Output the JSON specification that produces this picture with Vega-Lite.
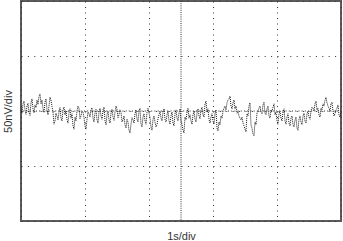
{
  "$schema": "https://vega.github.io/schema/vega-lite/v6.json",
  "width": 320,
  "height": 220,
  "autosize": {"type": "none"},
  "padding": {"left": 21, "top": 1, "right": 2, "bottom": 20},
  "background": "white",
  "config": {
    "view": {"stroke": "#5a5a5a", "strokeWidth": 2},
    "font": "Liberation Sans"
  },
  "datasets": {
    "trace": [
      {"t":0,"v":5},{"t":0.0625,"v":13},{"t":0.125,"v":2},{"t":0.1875,"v":9},{"t":0.25,"v":-2},{"t":0.3125,"v":15},{"t":0.375,"v":4},{"t":0.4375,"v":11},{"t":0.5,"v":20},{"t":0.5625,"v":27},{"t":0.625,"v":13},{"t":0.6875,"v":5},{"t":0.75,"v":16},{"t":0.8125,"v":2},{"t":0.875,"v":9},{"t":0.9375,"v":20},
      {"t":1,"v":-2},{"t":1.0625,"v":-18},{"t":1.125,"v":-9},{"t":1.1875,"v":-2},{"t":1.25,"v":-13},{"t":1.3125,"v":2},{"t":1.375,"v":-7},{"t":1.4375,"v":-16},{"t":1.5,"v":-4},{"t":1.5625,"v":-13},{"t":1.625,"v":-27},{"t":1.6875,"v":-11},{"t":1.75,"v":0},{"t":1.8125,"v":5},{"t":1.875,"v":-9},{"t":1.9375,"v":-2},
      {"t":2,"v":-27},{"t":2.0625,"v":-15},{"t":2.125,"v":-5},{"t":2.1875,"v":2},{"t":2.25,"v":-13},{"t":2.3125,"v":-4},{"t":2.375,"v":-16},{"t":2.4375,"v":-2},{"t":2.5,"v":-9},{"t":2.5625,"v":2},{"t":2.625,"v":-18},{"t":2.6875,"v":-7},{"t":2.75,"v":-16},{"t":2.8125,"v":-4},{"t":2.875,"v":-11},{"t":2.9375,"v":-2},
      {"t":3,"v":4},{"t":3.0625,"v":-7},{"t":3.125,"v":-2},{"t":3.1875,"v":-16},{"t":3.25,"v":-25},{"t":3.3125,"v":-15},{"t":3.375,"v":-35},{"t":3.4375,"v":-24},{"t":3.5,"v":-16},{"t":3.5625,"v":-5},{"t":3.625,"v":-15},{"t":3.6875,"v":0},{"t":3.75,"v":-24},{"t":3.8125,"v":-11},{"t":3.875,"v":-18},{"t":3.9375,"v":-2},
      {"t":4,"v":-4},{"t":4.0625,"v":-29},{"t":4.125,"v":-15},{"t":4.1875,"v":-20},{"t":4.25,"v":-25},{"t":4.3125,"v":-7},{"t":4.375,"v":-13},{"t":4.4375,"v":-2},{"t":4.5,"v":-15},{"t":4.5625,"v":-7},{"t":4.625,"v":-18},{"t":4.6875,"v":-9},{"t":4.75,"v":-22},{"t":4.8125,"v":-5},{"t":4.875,"v":-13},{"t":4.9375,"v":-4},
      {"t":5,"v":-18},{"t":5.0625,"v":-35},{"t":5.125,"v":-11},{"t":5.1875,"v":-2},{"t":5.25,"v":-13},{"t":5.3125,"v":-18},{"t":5.375,"v":-7},{"t":5.4375,"v":-15},{"t":5.5,"v":-4},{"t":5.5625,"v":-9},{"t":5.625,"v":2},{"t":5.6875,"v":-7},{"t":5.75,"v":13},{"t":5.8125,"v":-2},{"t":5.875,"v":-15},{"t":5.9375,"v":-11},
      {"t":6,"v":-18},{"t":6.0625,"v":-5},{"t":6.125,"v":-31},{"t":6.1875,"v":-20},{"t":6.25,"v":-9},{"t":6.3125,"v":0},{"t":6.375,"v":9},{"t":6.4375,"v":15},{"t":6.5,"v":22},{"t":6.5625,"v":9},{"t":6.625,"v":15},{"t":6.6875,"v":4},{"t":6.75,"v":-4},{"t":6.8125,"v":-9},{"t":6.875,"v":-16},{"t":6.9375,"v":-22},
      {"t":7,"v":-33},{"t":7.0625,"v":-5},{"t":7.125,"v":9},{"t":7.1875,"v":-25},{"t":7.25,"v":-42},{"t":7.3125,"v":-20},{"t":7.375,"v":-4},{"t":7.4375,"v":5},{"t":7.5,"v":-2},{"t":7.5625,"v":11},{"t":7.625,"v":-4},{"t":7.6875,"v":4},{"t":7.75,"v":-9},{"t":7.8125,"v":2},{"t":7.875,"v":7},{"t":7.9375,"v":-7},
      {"t":8,"v":-18},{"t":8.0625,"v":-5},{"t":8.125,"v":-13},{"t":8.1875,"v":-2},{"t":8.25,"v":-18},{"t":8.3125,"v":-11},{"t":8.375,"v":-22},{"t":8.4375,"v":-13},{"t":8.5,"v":-25},{"t":8.5625,"v":-16},{"t":8.625,"v":-31},{"t":8.6875,"v":-15},{"t":8.75,"v":-20},{"t":8.8125,"v":-9},{"t":8.875,"v":-18},{"t":8.9375,"v":-5},
      {"t":9,"v":-11},{"t":9.0625,"v":0},{"t":9.125,"v":5},{"t":9.1875,"v":13},{"t":9.25,"v":2},{"t":9.3125,"v":-7},{"t":9.375,"v":5},{"t":9.4375,"v":13},{"t":9.5,"v":20},{"t":9.5625,"v":15},{"t":9.625,"v":5},{"t":9.6875,"v":13},{"t":9.75,"v":0},{"t":9.8125,"v":-5},{"t":9.875,"v":5},{"t":9.9375,"v":-7},
      {"t":10,"v":-2},
      {"t":0.03125,"v":-4},{"t":0.09375,"v":18},{"t":0.15625,"v":-6},{"t":0.21875,"v":14},{"t":0.28125,"v":-8},{"t":0.34375,"v":22},{"t":0.40625,"v":-3},{"t":0.46875,"v":6},{"t":0.53125,"v":12},{"t":0.59375,"v":31},{"t":0.65625,"v":20},{"t":0.71875,"v":-3},{"t":0.78125,"v":22},{"t":0.84375,"v":-7},{"t":0.90625,"v":25},{"t":0.96875,"v":8},
      {"t":1.03125,"v":-24},{"t":1.09375,"v":-4},{"t":1.15625,"v":-16},{"t":1.21875,"v":6},{"t":1.28125,"v":-18},{"t":1.34375,"v":7},{"t":1.40625,"v":0},{"t":1.46875,"v":-22},{"t":1.53125,"v":4},{"t":1.59375,"v":-5},{"t":1.65625,"v":-33},{"t":1.71875,"v":-18},{"t":1.78125,"v":9},{"t":1.84375,"v":-14},{"t":1.90625,"v":0},{"t":1.96875,"v":-12},
      {"t":2.03125,"v":-33},{"t":2.09375,"v":-2},{"t":2.15625,"v":-11},{"t":2.21875,"v":6},{"t":2.28125,"v":-20},{"t":2.34375,"v":3},{"t":2.40625,"v":-22},{"t":2.46875,"v":5},{"t":2.53125,"v":-15},{"t":2.59375,"v":7},{"t":2.65625,"v":-25},{"t":2.71875,"v":0},{"t":2.78125,"v":-22},{"t":2.84375,"v":3},{"t":2.90625,"v":-17},{"t":2.96875,"v":9},
      {"t":3.03125,"v":-12},{"t":3.09375,"v":2},{"t":3.15625,"v":-20},{"t":3.21875,"v":-9},{"t":3.28125,"v":-31},{"t":3.34375,"v":-20},{"t":3.40625,"v":-40},{"t":3.46875,"v":-12},{"t":3.53125,"v":-22},{"t":3.59375,"v":2},{"t":3.65625,"v":-20},{"t":3.71875,"v":5},{"t":3.78125,"v":-29},{"t":3.84375,"v":-5},{"t":3.90625,"v":-24},{"t":3.96875,"v":5},
      {"t":4.03125,"v":-12},{"t":4.09375,"v":-35},{"t":4.15625,"v":-9},{"t":4.21875,"v":-29},{"t":4.28125,"v":-14},{"t":4.34375,"v":0},{"t":4.40625,"v":-18},{"t":4.46875,"v":4},{"t":4.53125,"v":-20},{"t":4.59375,"v":0},{"t":4.65625,"v":-24},{"t":4.71875,"v":-2},{"t":4.78125,"v":-27},{"t":4.84375,"v":2},{"t":4.90625,"v":-18},{"t":4.96875,"v":4},
      {"t":5.03125,"v":-24},{"t":5.09375,"v":-40},{"t":5.15625,"v":-16},{"t":5.21875,"v":5},{"t":5.28125,"v":-7},{"t":5.34375,"v":-24},{"t":5.40625,"v":0},{"t":5.46875,"v":-20},{"t":5.53125,"v":4},{"t":5.59375,"v":-14},{"t":5.65625,"v":7},{"t":5.71875,"v":-11},{"t":5.78125,"v":18},{"t":5.84375,"v":4},{"t":5.90625,"v":-22},{"t":5.96875,"v":-5},
      {"t":6.03125,"v":-24},{"t":6.09375,"v":2},{"t":6.15625,"v":-36},{"t":6.21875,"v":-25},{"t":6.28125,"v":-13},{"t":6.34375,"v":5},{"t":6.40625,"v":2},{"t":6.46875,"v":20},{"t":6.53125,"v":27},{"t":6.59375,"v":4},{"t":6.65625,"v":20},{"t":6.71875,"v":9},{"t":6.78125,"v":-1},{"t":6.84375,"v":-13},{"t":6.90625,"v":-11},{"t":6.96875,"v":-27},
      {"t":7.03125,"v":-38},{"t":7.09375,"v":-9},{"t":7.15625,"v":15},{"t":7.21875,"v":-31},{"t":7.28125,"v":-45},{"t":7.34375,"v":-25},{"t":7.40625,"v":0},{"t":7.46875,"v":9},{"t":7.53125,"v":-5},{"t":7.59375,"v":16},{"t":7.65625,"v":-7},{"t":7.71875,"v":9},{"t":7.78125,"v":-13},{"t":7.84375,"v":0},{"t":7.90625,"v":13},{"t":7.96875,"v":-2},
      {"t":8.03125,"v":-24},{"t":8.09375,"v":0},{"t":8.15625,"v":-18},{"t":8.21875,"v":4},{"t":8.28125,"v":-24},{"t":8.34375,"v":-5},{"t":8.40625,"v":-27},{"t":8.46875,"v":-9},{"t":8.53125,"v":-29},{"t":8.59375,"v":-11},{"t":8.65625,"v":-35},{"t":8.71875,"v":-9},{"t":8.78125,"v":-25},{"t":8.84375,"v":-4},{"t":8.90625,"v":-22},{"t":8.96875,"v":0},
      {"t":9.03125,"v":-15},{"t":9.09375,"v":7},{"t":9.15625,"v":0},{"t":9.21875,"v":18},{"t":9.28125,"v":5},{"t":9.34375,"v":-11},{"t":9.40625,"v":2},{"t":9.46875,"v":9},{"t":9.53125,"v":25},{"t":9.59375,"v":9},{"t":9.65625,"v":0},{"t":9.71875,"v":16},{"t":9.78125,"v":-9},{"t":9.84375,"v":2},{"t":9.90625,"v":11},{"t":9.96875,"v":-11}
    ],
    "centerX": [{"t": 5}],
    "centerY": [{"v": 0}]
  },
  "layer": [
    {
      "data": {"name": "trace"},
      "mark": {"type": "line", "color": "#1a1a1a", "strokeWidth": 1, "strokeDash": [1, 1], "clip": true},
      "encoding": {
        "x": {
          "field": "t", "type": "quantitative",
          "scale": {"domain": [0, 10], "nice": false, "zero": false},
          "axis": {
            "values": [0,1,2,3,4,5,6,7,8,9,10],
            "labels": false, "ticks": false, "domain": false,
            "grid": true, "gridColor": "#333333", "gridWidth": 1, "gridDash": [1, 4.5], "gridOpacity": 1,
            "title": "1s/div", "titleFont": "Liberation Sans", "titleFontSize": 11, "titleFontWeight": "normal", "titleColor": "#333333", "titlePadding": 9
          }
        },
        "y": {
          "field": "v", "type": "quantitative",
          "scale": {"domain": [-200, 200], "nice": false, "zero": false},
          "axis": {
            "values": [-200,-150,-100,-50,0,50,100,150,200],
            "labels": false, "ticks": false, "domain": false,
            "grid": true, "gridColor": "#333333", "gridWidth": 1, "gridDash": [1, 5.4], "gridOpacity": 1,
            "title": "50nV/div", "titleFont": "Liberation Sans", "titleFontSize": 11, "titleFontWeight": "normal", "titleColor": "#333333", "titlePadding": 8
          }
        }
      }
    },
    {
      "data": {"name": "centerX"},
      "mark": {"type": "rule", "color": "#333333", "strokeWidth": 1, "strokeDash": [1, 1.2]},
      "encoding": {"x": {"field": "t", "type": "quantitative"}}
    },
    {
      "data": {"name": "centerY"},
      "mark": {"type": "rule", "color": "#333333", "strokeWidth": 1, "strokeDash": [1, 2.2]},
      "encoding": {"y": {"field": "v", "type": "quantitative"}}
    }
  ]
}
